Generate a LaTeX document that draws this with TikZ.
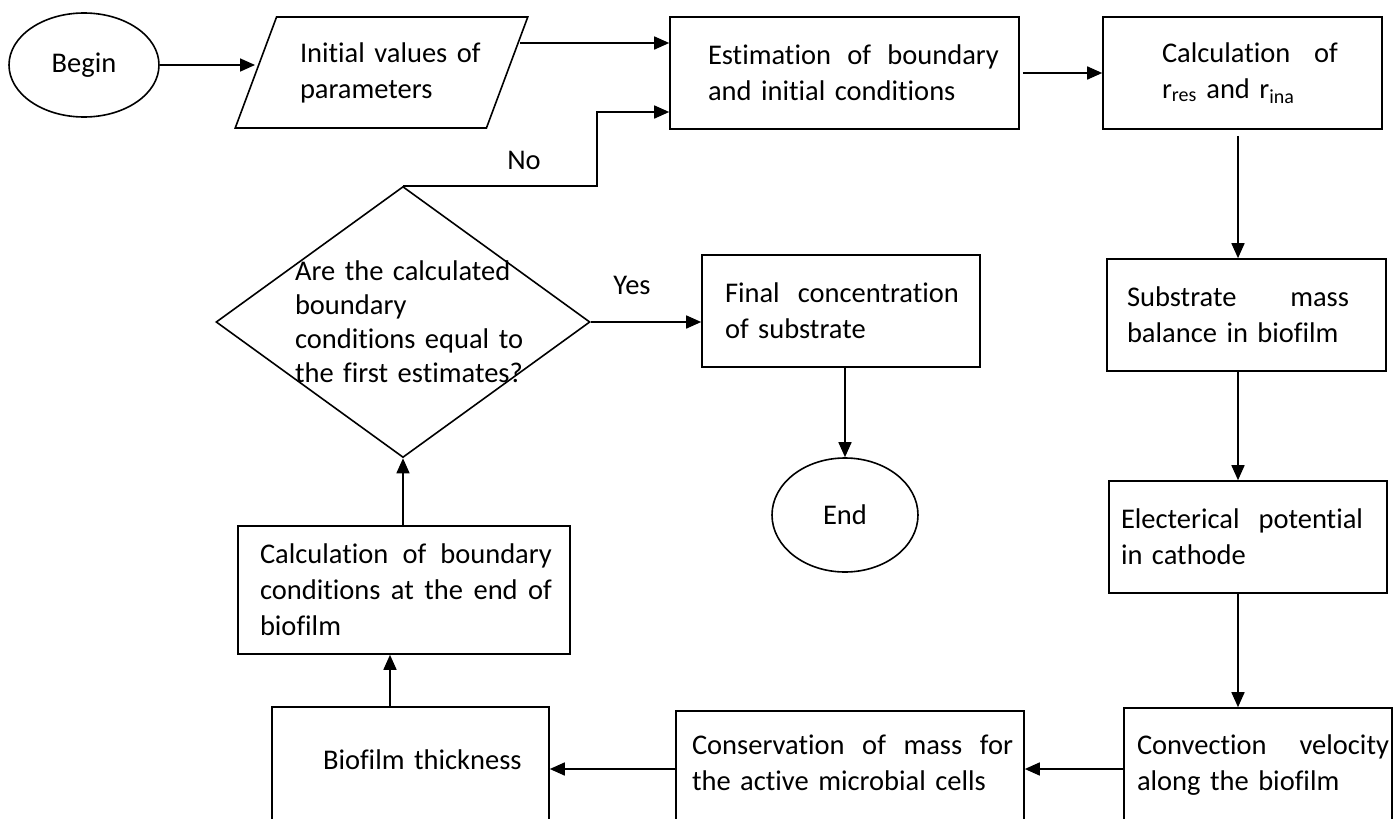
\documentclass[tikz,border=0pt]{standalone}
\usepackage{fontspec}
\setmainfont{Carlito}[Ligatures=NoCommon]
\usetikzlibrary{shapes.geometric,arrows.meta}
\newcommand{\spread}[2]{\makebox[#1][l]{#2}}

\begin{document}
\begin{tikzpicture}[
		x=1pt, y=-1pt,
		every node/.style={font=\fontsize{28.5}{36}\selectfont},
		box/.style={draw, line width=1.6pt, rectangle, inner sep=0pt, align=left},
		term/.style={draw, line width=1.6pt, ellipse, inner sep=0pt},
		arr/.style={line width=1.6pt, -{Triangle[length=15pt,width=13pt]}}
	]
	\useasboundingbox (0,0) rectangle (1395,819);
	\node[term, minimum width=150pt, minimum height=104pt] (begin) at (84,65) {Begin};
	\node[draw, line width=1.6pt, trapezium, trapezium left angle=62, trapezium right angle=118,
		trapezium stretches=true, minimum width=293pt, minimum height=111pt, inner sep=0pt,
		text width=163pt, align=left] (init) at (381.5,72.5) {\mbox{Initial values of}\\\mbox{parameters}};
	\node[box, minimum width=349pt, minimum height=112pt, text width=273pt] (est) at (844.5,73)
		{\spread{291pt}{Estimation \hfill of \hfill boundary}\\\mbox{and initial conditions}};
	\node[box, minimum width=279pt, minimum height=112pt, text width=161pt] (calc) at (1242.5,73)
		{\spread{176pt}{Calculation \hfill of}\\\mbox{r\textsubscript{res} and r\textsubscript{ina}}};
	\node[box, minimum width=279pt, minimum height=112pt, text width=239pt] (sub) at (1246.5,315)
		{\spread{222pt}{Substrate \hfill mass}\\\mbox{balance in biofilm}};
	\node[box, minimum width=278pt, minimum height=112pt, text width=254pt] (elec) at (1248,537)
		{\spread{242pt}{Electerical \hfill potential}\\\mbox{in cathode}};
	\node[box, minimum width=268pt, minimum height=132pt, text width=242pt, text depth=58pt] (conv) at (1258,774)
		{\spread{252pt}{Convection \hfill velocity}\\\mbox{along the biofilm}};
	\node[box, minimum width=348pt, minimum height=129pt, text width=316pt, text depth=61pt] (cons) at (850,775.5)
		{\spread{321pt}{Conservation \hfill of \hfill mass \hfill for}\\\mbox{the active microbial cells}};
	\node[box, minimum width=277pt, minimum height=133pt, text width=175pt, text depth=27pt] (thick) at (410.5,773.5)
		{\mbox{Biofilm thickness}};
	\node[box, minimum width=332pt, minimum height=128pt, text width=288pt] (bound) at (404,590)
		{\spread{292pt}{Calculation \hfill of \hfill boundary}\\\spread{292pt}{conditions \hfill at \hfill the \hfill end \hfill of}\\\mbox{biofilm}};
	\node[draw, line width=1.6pt, diamond, minimum width=374pt, minimum height=271pt, inner sep=0pt] (dec) at (403,322) {};
	\node[text width=216pt, align=left, font=\fontsize{28.5}{34}\selectfont] (dectxt) at (dec)
		{\spread{212pt}{Are \hfill the \hfill calculated}\\\mbox{boundary}\\\spread{212pt}{conditions \hfill equal \hfill to}\\\mbox{the first estimates?}};
	\node[box, minimum width=278pt, minimum height=112pt, text width=232pt] (final) at (841,311)
		{\spread{234pt}{Final \hfill concentration}\\\mbox{of substrate}};
	\node[term, minimum width=146pt, minimum height=114pt] (end) at (845,515) {End};
	\node (yes) at (632,285) {Yes};
	\node (no) at (524,160) {No};
	\coordinate (initout) at (520,43);
	\coordinate (col) at (1238,0);
	\coordinate (row) at (0,769);
	\coordinate (turn) at (597,112);
	\coordinate (up) at (390,0);
	\draw[arr] (begin.east) -- (begin.east -| init.west);
	\draw[arr] (initout) -- (initout -| est.west);
	\draw[arr, shorten <=3pt] (est.east) -- (calc.west);
	\draw[arr, shorten <=6pt] (calc.south -| col) -- (sub.north -| col);
	\draw[arr] (sub.south -| col) -- (elec.north -| col);
	\draw[arr] (elec.south -| col) -- (conv.north -| col);
	\draw[arr] (conv.west |- row) -- (cons.east |- row);
	\draw[arr] (cons.west |- row) -- (thick.east |- row);
	\draw[arr] (thick.north -| up) -- (bound.south -| up);
	\draw[arr] (bound.north -| dec.south) -- (dec.south);
	\draw[arr] (dec.east) -- (dec.east -| final.west);
	\draw[arr] (dec.north) -| (turn) -- (turn -| est.west);
	\draw[arr] (final.south -| end.north) -- (end.north);
\end{tikzpicture}
\end{document}
